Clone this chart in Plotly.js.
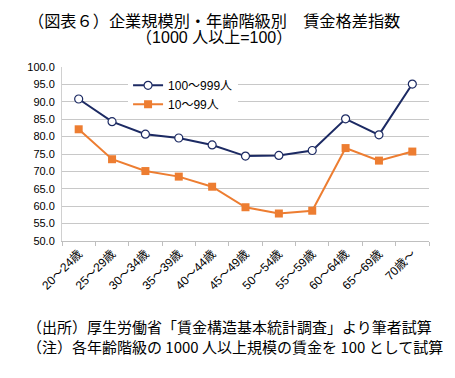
<!DOCTYPE html>
<html>
<head>
<meta charset="utf-8">
<script src="https://cdn.plot.ly/plotly-3.0.1.min.js"></script>
<style>html,body{margin:0;padding:0;background:#fff;}#chart{width:455px;height:378px;}</style>
</head>
<body>
<div id="chart"></div>
<script>
const categories = ["20～24歳","25～29歳","30～34歳","35～39歳","40～44歳","45～49歳","50～54歳","55～59歳","60～64歳","65～69歳","70歳～"];
const series1Name = "100～999人";
const series1 = [90.8, 84.3, 80.7, 79.6, 77.6, 74.4, 74.6, 76.0, 85.1, 80.5, 95.1];
const series2Name = "10～99人";
const series2 = [82.1, 73.5, 70.1, 68.5, 65.6, 59.7, 57.9, 58.7, 76.7, 73.1, 75.7];
const yTicks = [50,55,60,65,70,75,80,85,90,95,100];
const yTickLabels = yTicks.map(v => v.toFixed(1));
const titleLine1 = "（図表６）企業規模別・年齢階級別　賃金格差指数";
const titleLine2 = "（1000 人以上=100）";
const note1 = "（出所）厚生労働省「賃金構造基本統計調査」より筆者試算";
const note2 = "（注）各年齢階級の 1000 人以上規模の賃金を 100 として試算";

const jp = "Liberation Sans, Noto Sans CJK JP, sans-serif";
const cjk = "Noto Sans CJK JP, sans-serif";

const traces = [
  {x: categories, y: series1, name: series1Name, type: "scatter", mode: "lines+markers",
   line: {color: "#1c2a63", width: 2},
   marker: {symbol: "circle", size: 8, color: "#ffffff", line: {color: "#1c2a63", width: 1.2}}},
  {x: categories, y: series2, name: series2Name, type: "scatter", mode: "lines+markers",
   line: {color: "#ED7D31", width: 2},
   marker: {symbol: "square", size: 8, color: "#ED7D31"}}
];

const layout = {
  width: 455, height: 378,
  margin: {l: 62, r: 26, t: 67, b: 137},
  paper_bgcolor: "#ffffff", plot_bgcolor: "#ffffff",
  showlegend: true,
  font: {family: jp, color: "#000000"},
  xaxis: {type: "category", tickangle: -45, tickfont: {size: 12, family: jp},
          showgrid: false, showline: true, linecolor: "#bfbfbf", linewidth: 1,
          ticks: "outside", ticklen: 4, tickcolor: "#bfbfbf", tickson: "boundaries",
          range: [-0.5, 10.5], fixedrange: true},
  yaxis: {range: [50, 100], tickvals: yTicks, ticktext: yTickLabels,
          tickfont: {size: 11, family: "Liberation Sans, sans-serif"},
          showgrid: true, gridcolor: "#c8c8c8", gridwidth: 1,
          showline: true, linecolor: "#d0d0d0", linewidth: 1, zeroline: false,
          ticks: "", ticklabelstandoff: 4},
  legend: {x: 0.18, y: 0.978, xanchor: "left", yanchor: "top", bgcolor: "#ffffff",
           font: {size: 12, family: jp},
           tracegroupgap: 0, itemwidth: 30},
  annotations: [
    {text: '<span style="font-size:16.2px">' + titleLine1 + '</span><br>' +
           '<span style="font-size:16px">' + titleLine2 + '</span>',
     xref: "paper", yref: "paper", x: 0.414, y: (241 - 28.5) / 174, align: "center",
     xanchor: "center", yanchor: "middle", showarrow: false,
     font: {family: jp, size: 12, color: "#000"}},
    {text: note1, xref: "paper", yref: "paper",
     x: -0.1, y: -0.494, xanchor: "left", yanchor: "middle", showarrow: false,
     font: {family: cjk, size: 15, color: "#000"}},
    {text: note2, xref: "paper", yref: "paper",
     x: -0.1, y: -0.609, xanchor: "left", yanchor: "middle", showarrow: false,
     font: {family: cjk, size: 15, color: "#000"}}
  ]
};

Plotly.newPlot("chart", traces, layout, {displayModeBar: false, staticPlot: true});
</script>
</body>
</html>
